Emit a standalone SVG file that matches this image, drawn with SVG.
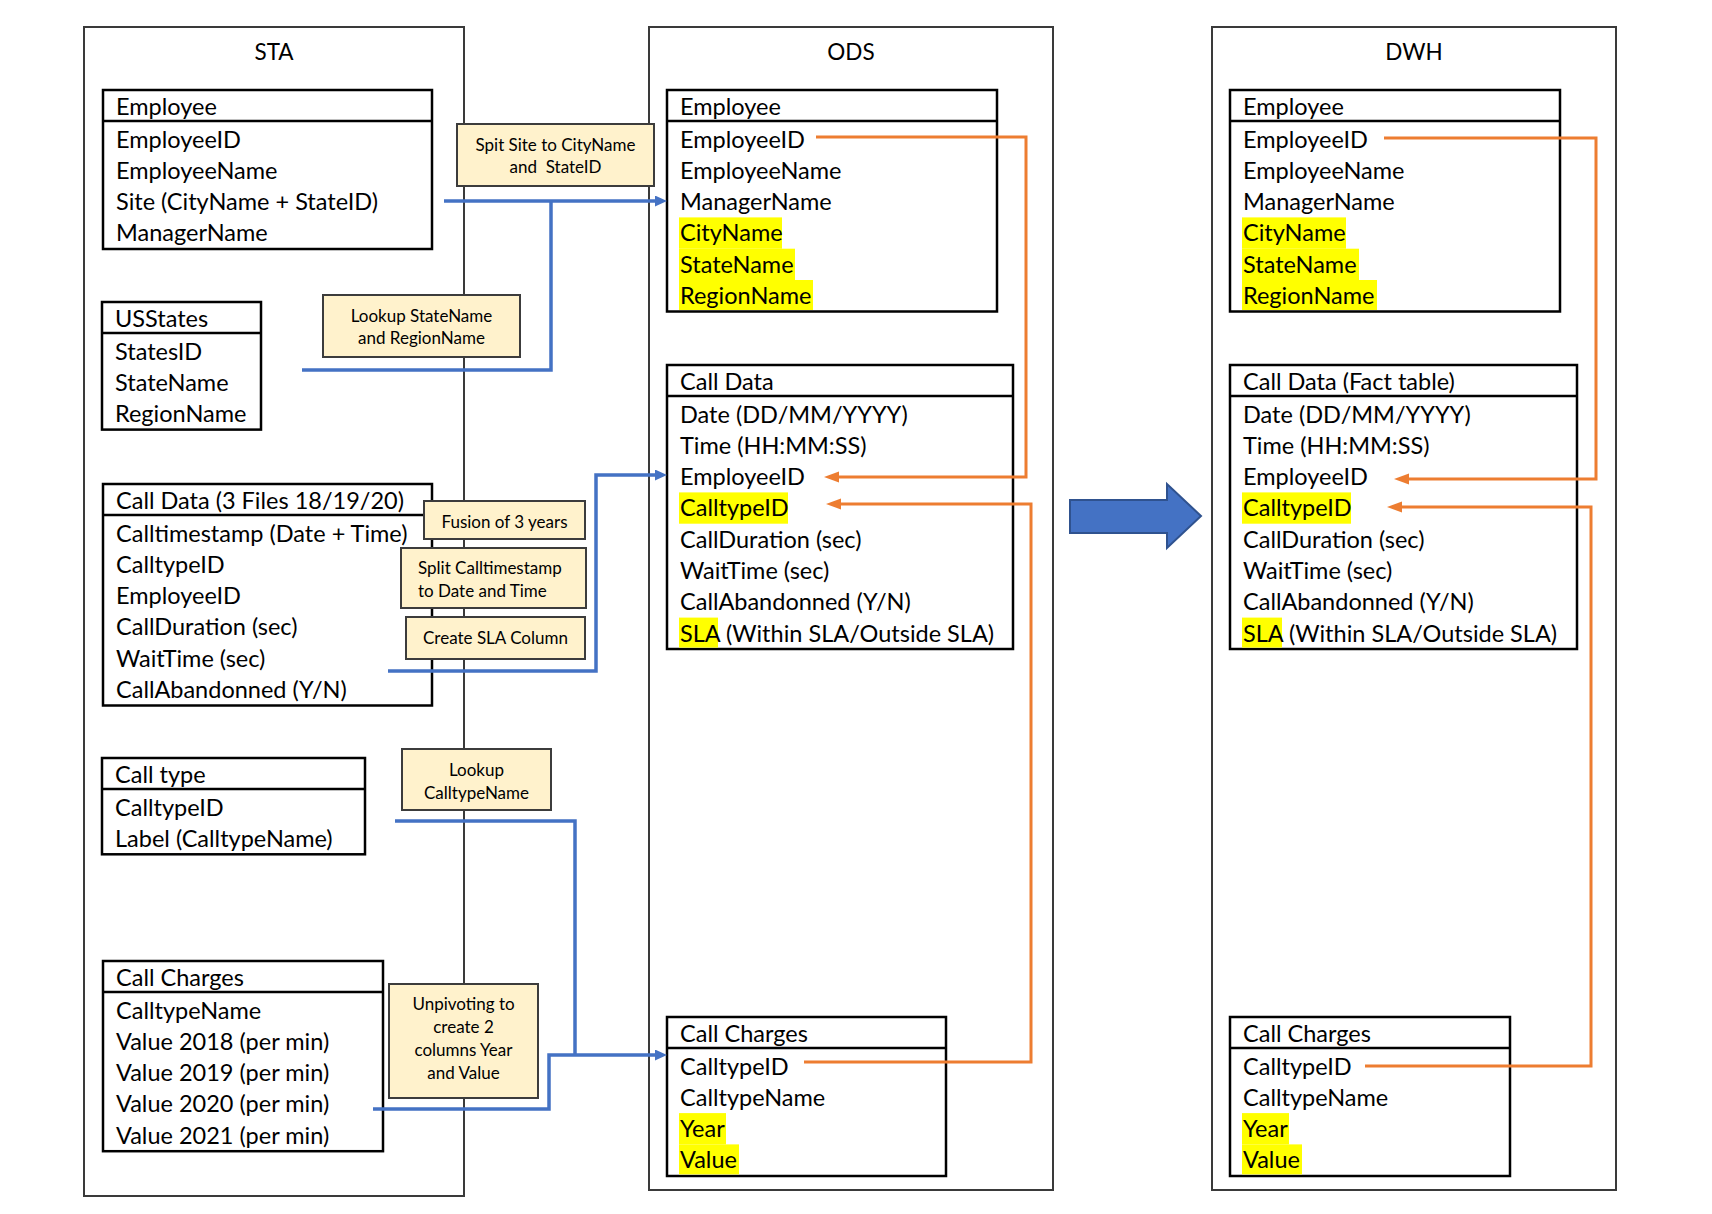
<svg xmlns="http://www.w3.org/2000/svg" width="1712" height="1214" viewBox="0 0 1712 1214">
<style>
  text { font-family: Lato, "Liberation Sans", sans-serif; fill: #000; }
  .cont { fill: none; stroke: #3a3a3a; stroke-width: 2; }
  .title { font-size: 22.5px; text-anchor: middle; }
  .tbl { fill: #fff; stroke: #000; stroke-width: 2.5; }
  .sep { stroke: #000; stroke-width: 2.5; }
  .t { font-size: 23.5px; }
  .hl { fill: #ffff00; }
  .box { fill: #fff2cc; stroke: #3c3c3c; stroke-width: 2; }
  .bt { font-size: 17px; text-anchor: middle; }
  .btl { font-size: 17px; }
  .blue { fill: none; stroke: #4472c4; stroke-width: 3.5; }
  .orange { fill: none; stroke: #ed7d31; stroke-width: 3; }
</style>
<defs>
  <marker id="ab" markerUnits="userSpaceOnUse" markerWidth="13" markerHeight="12" refX="1" refY="5.5" orient="auto">
    <path d="M0,0 L12,5.5 L0,11 z" fill="#4472c4"/>
  </marker>
  <marker id="ao" markerUnits="userSpaceOnUse" markerWidth="16" markerHeight="12" refX="1" refY="5.5" orient="auto">
    <path d="M0,0 L15,5.5 L0,11 z" fill="#ed7d31"/>
  </marker>
</defs>
<rect width="1712" height="1214" fill="#fff"/>

<!-- containers -->
<g id="sta">
  <rect class="cont" x="84" y="27" width="380" height="1169"/>
  <text class="title" x="274" y="60">STA</text>
</g>
<g id="ods">
  <rect class="cont" x="649" y="27" width="404" height="1163"/>
  <text class="title" x="851" y="60">ODS</text>
</g>
<g id="dwh">
  <rect class="cont" x="1212" y="27" width="404" height="1163"/>
  <text class="title" x="1414" y="60">DWH</text>
</g>

<!-- STA tables -->
<g id="sta-employee" transform="translate(103,90)">
  <rect class="tbl" width="329" height="159"/>
  <line class="sep" x1="0" y1="31" x2="329" y2="31"/>
  <text class="t" x="13" y="24.5">Employee</text>
  <text class="t" x="13" y="57.5">EmployeeID</text>
  <text class="t" x="13" y="88.8">EmployeeName</text>
  <text class="t" x="13" y="120.1">Site (CityName + StateID)</text>
  <text class="t" x="13" y="151.4">ManagerName</text>
</g>
<g id="sta-usstates" transform="translate(102,302)">
  <rect class="tbl" width="159" height="127.6"/>
  <line class="sep" x1="0" y1="31" x2="159" y2="31"/>
  <text class="t" x="13" y="24.5">USStates</text>
  <text class="t" x="13" y="57.5">StatesID</text>
  <text class="t" x="13" y="88.8">StateName</text>
  <text class="t" x="13" y="120.1">RegionName</text>
</g>
<g id="sta-calldata" transform="translate(103,484)">
  <rect class="tbl" width="329" height="221.5"/>
  <line class="sep" x1="0" y1="31" x2="329" y2="31"/>
  <text class="t" x="13" y="24.5">Call Data (3 Files 18/19/20)</text>
  <text class="t" x="13" y="57.5">Calltimestamp (Date + Time)</text>
  <text class="t" x="13" y="88.8">CalltypeID</text>
  <text class="t" x="13" y="120.1">EmployeeID</text>
  <text class="t" x="13" y="151.4">CallDuration (sec)</text>
  <text class="t" x="13" y="182.7">WaitTime (sec)</text>
  <text class="t" x="13" y="214">CallAbandonned (Y/N)</text>
</g>
<g id="sta-calltype" transform="translate(102,758)">
  <rect class="tbl" width="263" height="96.3"/>
  <line class="sep" x1="0" y1="31" x2="263" y2="31"/>
  <text class="t" x="13" y="24.5">Call type</text>
  <text class="t" x="13" y="57.5">CalltypeID</text>
  <text class="t" x="13" y="88.8">Label (CalltypeName)</text>
</g>
<g id="sta-callcharges" transform="translate(103,961)">
  <rect class="tbl" width="280" height="190.2"/>
  <line class="sep" x1="0" y1="31" x2="280" y2="31"/>
  <text class="t" x="13" y="24.5">Call Charges</text>
  <text class="t" x="13" y="57.5">CalltypeName</text>
  <text class="t" x="13" y="88.8">Value 2018 (per min)</text>
  <text class="t" x="13" y="120.1">Value 2019 (per min)</text>
  <text class="t" x="13" y="151.4">Value 2020 (per min)</text>
  <text class="t" x="13" y="182.7">Value 2021 (per min)</text>
</g>

<!-- ODS tables -->
<g id="ods-employee" transform="translate(667,90)">
  <rect class="tbl" width="330" height="221.5"/>
  <rect class="hl" x="12" y="127.4" width="103" height="31.3"/>
  <rect class="hl" x="12" y="158.7" width="116" height="31.3"/>
  <rect class="hl" x="12" y="190" width="134" height="30"/>
  <line class="sep" x1="0" y1="31" x2="330" y2="31"/>
  <text class="t" x="13" y="24.5">Employee</text>
  <text class="t" x="13" y="57.5">EmployeeID</text>
  <text class="t" x="13" y="88.8">EmployeeName</text>
  <text class="t" x="13" y="120.1">ManagerName</text>
  <text class="t" x="13" y="151.4">CityName</text>
  <text class="t" x="13" y="182.7">StateName</text>
  <text class="t" x="13" y="214">RegionName</text>
</g>
<g id="ods-calldata" transform="translate(667,365)">
  <rect class="tbl" width="346" height="284"/>
  <rect class="hl" x="12" y="127.4" width="109" height="31.3"/>
  <rect class="hl" x="12" y="252.6" width="39" height="30"/>
  <line class="sep" x1="0" y1="31" x2="346" y2="31"/>
  <text class="t" x="13" y="24.5">Call Data</text>
  <text class="t" x="13" y="57.5">Date (DD/MM/YYYY)</text>
  <text class="t" x="13" y="88.8">Time (HH:MM:SS)</text>
  <text class="t" x="13" y="120.1">EmployeeID</text>
  <text class="t" x="13" y="151.4">CalltypeID</text>
  <text class="t" x="13" y="182.7">CallDuration (sec)</text>
  <text class="t" x="13" y="214">WaitTime (sec)</text>
  <text class="t" x="13" y="245.3">CallAbandonned (Y/N)</text>
  <text class="t" x="13" y="276.6">SLA (Within SLA/Outside SLA)</text>
</g>
<g id="ods-callcharges" transform="translate(667,1017)">
  <rect class="tbl" width="279" height="159"/>
  <rect class="hl" x="12" y="96.1" width="47" height="31.3"/>
  <rect class="hl" x="12" y="127.4" width="60" height="30"/>
  <line class="sep" x1="0" y1="31" x2="279" y2="31"/>
  <text class="t" x="13" y="24.5">Call Charges</text>
  <text class="t" x="13" y="57.5">CalltypeID</text>
  <text class="t" x="13" y="88.8">CalltypeName</text>
  <text class="t" x="13" y="120.1">Year</text>
  <text class="t" x="13" y="151.4">Value</text>
</g>

<!-- DWH tables -->
<g id="dwh-employee" transform="translate(1230,90)">
  <rect class="tbl" width="330" height="221.5"/>
  <rect class="hl" x="12" y="127.4" width="104" height="31.3"/>
  <rect class="hl" x="12" y="158.7" width="117" height="31.3"/>
  <rect class="hl" x="12" y="190" width="135" height="30"/>
  <line class="sep" x1="0" y1="31" x2="330" y2="31"/>
  <text class="t" x="13" y="24.5">Employee</text>
  <text class="t" x="13" y="57.5">EmployeeID</text>
  <text class="t" x="13" y="88.8">EmployeeName</text>
  <text class="t" x="13" y="120.1">ManagerName</text>
  <text class="t" x="13" y="151.4">CityName</text>
  <text class="t" x="13" y="182.7">StateName</text>
  <text class="t" x="13" y="214">RegionName</text>
</g>
<g id="dwh-calldata" transform="translate(1230,365)">
  <rect class="tbl" width="347" height="284"/>
  <rect class="hl" x="12" y="127.4" width="109" height="31.3"/>
  <rect class="hl" x="12" y="252.6" width="40" height="30"/>
  <line class="sep" x1="0" y1="31" x2="347" y2="31"/>
  <text class="t" x="13" y="24.5">Call Data (Fact table)</text>
  <text class="t" x="13" y="57.5">Date (DD/MM/YYYY)</text>
  <text class="t" x="13" y="88.8">Time (HH:MM:SS)</text>
  <text class="t" x="13" y="120.1">EmployeeID</text>
  <text class="t" x="13" y="151.4">CalltypeID</text>
  <text class="t" x="13" y="182.7">CallDuration (sec)</text>
  <text class="t" x="13" y="214">WaitTime (sec)</text>
  <text class="t" x="13" y="245.3">CallAbandonned (Y/N)</text>
  <text class="t" x="13" y="276.6">SLA (Within SLA/Outside SLA)</text>
</g>
<g id="dwh-callcharges" transform="translate(1230,1017)">
  <rect class="tbl" width="280" height="159"/>
  <rect class="hl" x="12" y="96.1" width="47" height="31.3"/>
  <rect class="hl" x="12" y="127.4" width="60" height="30"/>
  <line class="sep" x1="0" y1="31" x2="280" y2="31"/>
  <text class="t" x="13" y="24.5">Call Charges</text>
  <text class="t" x="13" y="57.5">CalltypeID</text>
  <text class="t" x="13" y="88.8">CalltypeName</text>
  <text class="t" x="13" y="120.1">Year</text>
  <text class="t" x="13" y="151.4">Value</text>
</g>

<!-- transformation notes -->
<g id="note-split-site">
  <rect class="box" x="457" y="124" width="197" height="62"/>
  <text class="bt" x="555.5" y="151">Spit Site to CityName</text>
  <text class="bt" x="555.5" y="173" xml:space="preserve">and  StateID</text>
</g>
<g id="note-lookup-state">
  <rect class="box" x="323" y="295" width="197" height="62"/>
  <text class="bt" x="421.5" y="322">Lookup StateName</text>
  <text class="bt" x="421.5" y="344">and RegionName</text>
</g>
<g id="note-fusion">
  <rect class="box" x="424" y="501" width="161" height="38"/>
  <text class="bt" x="504.5" y="528">Fusion of 3 years</text>
</g>
<g id="note-split-timestamp">
  <rect class="box" x="401" y="548" width="185" height="60"/>
  <text class="btl" x="418" y="574">Split Calltimestamp</text>
  <text class="btl" x="418" y="597">to Date and Time</text>
</g>
<g id="note-sla">
  <rect class="box" x="406" y="617" width="179" height="42"/>
  <text class="bt" x="495.5" y="644">Create SLA Column</text>
</g>
<g id="note-lookup-calltype">
  <rect class="box" x="402" y="749" width="149" height="61"/>
  <text class="bt" x="476.5" y="776">Lookup</text>
  <text class="bt" x="476.5" y="799">CalltypeName</text>
</g>
<g id="note-unpivot">
  <rect class="box" x="389" y="984" width="149" height="114"/>
  <text class="bt" x="463.5" y="1010">Unpivoting to</text>
  <text class="bt" x="463.5" y="1033">create 2</text>
  <text class="bt" x="463.5" y="1056">columns Year</text>
  <text class="bt" x="463.5" y="1079">and Value</text>
</g>

<!-- connectors -->
<g id="connectors">
  <path class="blue" d="M444,201 H656" marker-end="url(#ab)"/>
  <path class="blue" d="M302,370 H551 V201"/>
  <path class="blue" d="M388,671 H596 V475 H656" marker-end="url(#ab)"/>
  <path class="blue" d="M395,821 H575 V1055"/>
  <path class="blue" d="M373,1109 H549 V1055 H656" marker-end="url(#ab)"/>
  <path class="orange" d="M816,137 H1026 V477 H838" marker-end="url(#ao)"/>
  <path class="orange" d="M804,1062 H1031 V504 H840" marker-end="url(#ao)"/>
  <path class="orange" d="M1384,138 H1596 V479 H1408" marker-end="url(#ao)"/>
  <path class="orange" d="M1365,1066 H1591 V507 H1401" marker-end="url(#ao)"/>
</g>

<g id="stage-arrow">
  <polygon points="1070,500 1167,500 1167,484 1201,516 1167,548 1167,533 1070,533" fill="#4472c4" stroke="#2f528f" stroke-width="2"/>
</g>
</svg>
